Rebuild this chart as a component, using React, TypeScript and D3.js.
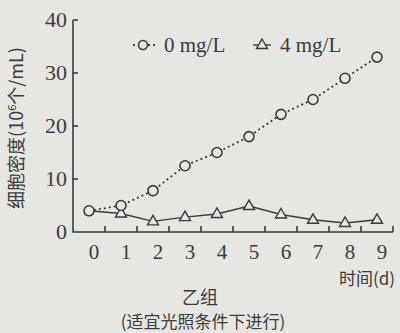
import * as d3 from "d3";
import React, { useEffect, useRef } from "react";

const days = [0, 1, 2, 3, 4, 5, 6, 7, 8, 9];
const density0 = [4, 5, 7.8, 12.5, 15, 18, 22.2, 25, 29, 33];
const density4 = [4, 3.5, 2, 2.8, 3.4, 4.9, 3.3, 2.3, 1.7, 2.3];
const yTicks = [0, 10, 20, 30, 40];
const legendLabels = ["0 mg/L", "4 mg/L"];

const INK = "#3b3b3b";
const BG = "#e6e6e3";
const SERIF = "'Liberation Serif', 'DejaVu Serif', serif";
const CJK = "'Noto Sans CJK SC', sans-serif";

export default function App() {
  const ref = useRef<SVGSVGElement>(null);

  useEffect(() => {
    const svg = d3.select(ref.current);
    svg.selectAll("*").remove();

    const x = d3.scaleLinear().domain([-0.5, 9.5]).range([73, 393]);
    const y = d3.scaleLinear().domain([0, 40]).range([232, 20]);

    svg.append("rect").attr("width", 400).attr("height", 333).attr("fill", BG);

    // axes
    const g = svg.append("g").attr("stroke", INK).attr("stroke-width", 1.6).attr("fill", "none");
    g.append("path").attr("d", `M${x(-0.5)},${y(40)}V${y(0)}H${x(9.5)}`);
    yTicks.filter((t) => t > 0).forEach((t) => {
      g.append("line").attr("x1", x(-0.5)).attr("x2", x(-0.5) + 5).attr("y1", y(t)).attr("y2", y(t));
    });
    days.forEach((d) => {
      g.append("line").attr("x1", x(d + 0.5)).attr("x2", x(d + 0.5)).attr("y1", y(0)).attr("y2", y(0) - 6);
    });

    // tick labels
    svg
      .append("g")
      .selectAll("text")
      .data(yTicks)
      .enter()
      .append("text")
      .attr("x", 67)
      .attr("y", (d) => y(d) + 7)
      .attr("text-anchor", "end")
      .attr("font-family", SERIF)
      .attr("font-size", 22)
      .attr("fill", INK)
      .text((d) => d);

    svg
      .append("g")
      .selectAll("text")
      .data(days)
      .enter()
      .append("text")
      .attr("x", (d) => x(d) + 5)
      .attr("y", 259)
      .attr("text-anchor", "middle")
      .attr("font-family", SERIF)
      .attr("font-size", 21)
      .attr("fill", INK)
      .text((d) => d);

    // lines
    const line = d3
      .line<number>()
      .x((_, i) => x(days[i]))
      .y((d) => y(d));

    svg.append("path").attr("d", line(density4)).attr("fill", "none").attr("stroke", INK).attr("stroke-width", 1.4);
    svg
      .append("path")
      .attr("d", line(density0))
      .attr("fill", "none")
      .attr("stroke", INK)
      .attr("stroke-width", 1.8)
      .attr("stroke-dasharray", "2,3");

    const tri = (cx: number, cy: number) => `M${cx},${cy - 6}L${cx + 5.5},${cy + 3.5}L${cx - 5.5},${cy + 3.5}Z`;

    svg
      .append("g")
      .selectAll("path")
      .data(density4.slice(1))
      .enter()
      .append("path")
      .attr("d", (d, i) => tri(x(days[i + 1]), y(d)))
      .attr("fill", BG)
      .attr("stroke", INK)
      .attr("stroke-width", 1.4);

    svg
      .append("g")
      .selectAll("circle")
      .data(density0)
      .enter()
      .append("circle")
      .attr("cx", (_, i) => x(days[i]))
      .attr("cy", (d) => y(d))
      .attr("r", 5)
      .attr("fill", BG)
      .attr("stroke", INK)
      .attr("stroke-width", 1.6);

    // legend
    const lg = svg.append("g");
    lg.append("line").attr("x1", 133).attr("x2", 156).attr("y1", 45).attr("y2", 45)
      .attr("stroke", INK).attr("stroke-width", 1.8).attr("stroke-dasharray", "2,3");
    lg.append("circle").attr("cx", 143).attr("cy", 45).attr("r", 4.5)
      .attr("fill", BG).attr("stroke", INK).attr("stroke-width", 1.6);
    lg.append("text").attr("x", 164).attr("y", 52).attr("font-family", SERIF).attr("font-size", 21)
      .attr("fill", INK).text(legendLabels[0]);
    lg.append("line").attr("x1", 253).attr("x2", 271).attr("y1", 45).attr("y2", 45)
      .attr("stroke", INK).attr("stroke-width", 1.4);
    lg.append("path").attr("d", tri(262, 45)).attr("fill", BG).attr("stroke", INK).attr("stroke-width", 1.4);
    lg.append("text").attr("x", 280).attr("y", 52).attr("font-family", SERIF).attr("font-size", 21)
      .attr("fill", INK).text(legendLabels[1]);

    // axis titles
    const yl = svg
      .append("text")
      .attr("transform", "translate(23,128) rotate(-90)")
      .attr("text-anchor", "middle")
      .attr("font-family", CJK)
      .attr("font-size", 18)
      .attr("fill", INK);
    yl.append("tspan").text("细胞密度(10");
    yl.append("tspan").attr("font-size", 11).attr("dy", -7).text("6");
    yl.append("tspan").attr("dy", 7).text("个/mL)");

    svg.append("text").attr("x", 395).attr("y", 285).attr("text-anchor", "end")
      .attr("font-family", CJK).attr("font-size", 17).attr("fill", INK).text("时间(d)");
    svg.append("text").attr("x", 200).attr("y", 304).attr("text-anchor", "middle")
      .attr("font-family", CJK).attr("font-size", 18).attr("fill", INK).text("乙组");
    svg.append("text").attr("x", 203).attr("y", 328).attr("text-anchor", "middle")
      .attr("font-family", CJK).attr("font-size", 17).attr("fill", INK).text("(适宜光照条件下进行)");
  }, []);

  return (
    <svg
      ref={ref}
      width={400}
      height={333}
      style={{ position: "absolute", left: 0, top: 0, display: "block" }}
    />
  );
}
